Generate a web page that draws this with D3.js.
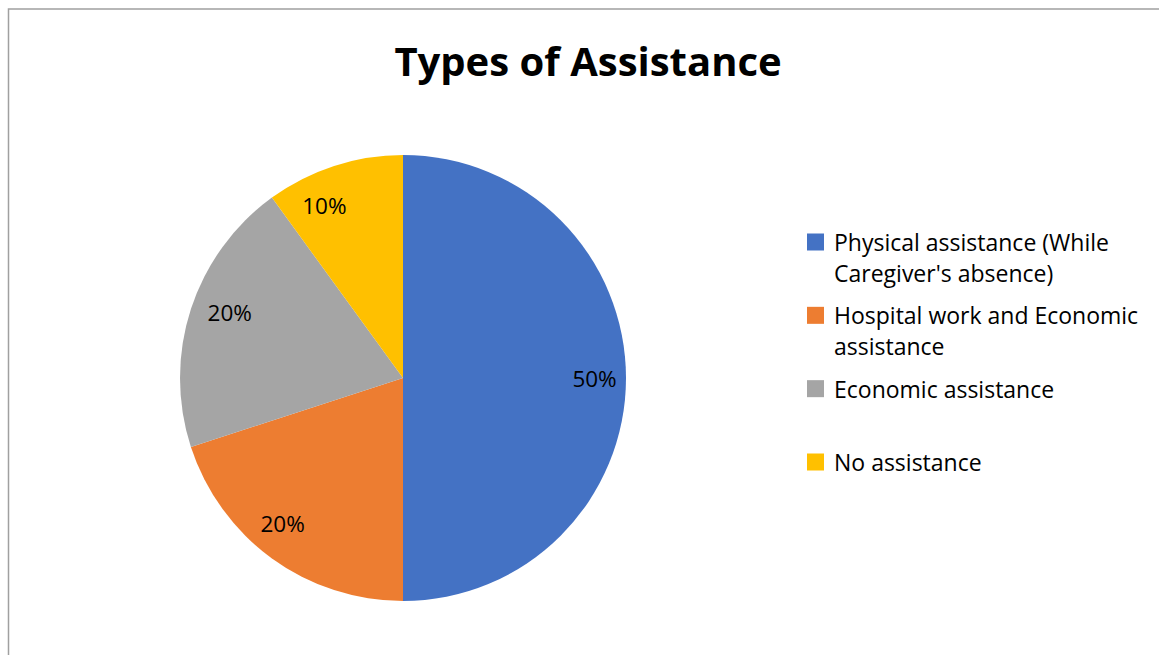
<!DOCTYPE html>
<html>
<head>
<meta charset="utf-8">
<script src="https://cdn.jsdelivr.net/npm/d3@7"></script>
<style>
  html, body { margin: 0; padding: 0; background: #fff; }
  svg { display: block; }
</style>
</head>
<body>
<svg id="chart" width="1159" height="655"></svg>
<script>
// Chart content
const title = "Types of Assistance";
const categories = [
  "Physical assistance (While Caregiver's absence)",
  "Hospital work and Economic assistance",
  "Economic assistance",
  "No assistance"
];
const legendLines = [
  ["Physical assistance (While", "Caregiver's absence)"],
  ["Hospital work and Economic", "assistance"],
  ["Economic assistance"],
  ["No assistance"]
];
const shares = [50, 20, 20, 10];
const colors = ["#4472C4", "#ED7D31", "#A5A5A5", "#FFC000"];

const W = 1159, H = 655;
const font = "'Open Sans', 'Liberation Sans', sans-serif";
const svg = d3.select("#chart");

// Chart frame (runs past the right and bottom edges)
svg.append("rect")
  .attr("x", 8.5).attr("y", 9)
  .attr("width", W + 20).attr("height", H + 20)
  .attr("fill", "#fff")
  .attr("stroke", "#a0a0a0")
  .attr("stroke-width", 1.5);

// Title
svg.append("text")
  .attr("x", 588).attr("y", 76)
  .attr("text-anchor", "middle")
  .attr("font-family", font)
  .attr("font-weight", "bold")
  .attr("font-size", 40)
  .attr("fill", "#000")
  .text(title);

// Pie
const cx = 403, cy = 378, r = 223;
const pie = d3.pie().sort(null).value(d => d);
const arcs = pie(shares);
const arc = d3.arc().innerRadius(0).outerRadius(r);
const labelArc = d3.arc().innerRadius(r * 0.85).outerRadius(r * 0.85);
const color = d3.scaleOrdinal().domain(d3.range(shares.length)).range(colors);
// small per-label nudges so labels sit clear of slice edges
const labelNudge = [[2, 0], [-9, -8], [7, -7], [-20, 8]];

const g = svg.append("g").attr("transform", `translate(${cx},${cy})`);
g.selectAll("path.slice")
  .data(arcs)
  .join("path")
  .attr("class", "slice")
  .attr("d", arc)
  .attr("fill", (d, i) => color(i));

g.selectAll("text.pct")
  .data(arcs)
  .join("text")
  .attr("class", "pct")
  .attr("transform", (d, i) => {
    const [x, y] = labelArc.centroid(d);
    return `translate(${x + labelNudge[i][0]},${y + labelNudge[i][1]})`;
  })
  .attr("text-anchor", "middle")
  .attr("dominant-baseline", "central")
  .attr("font-family", font)
  .attr("font-size", 22.5)
  .attr("fill", "#000")
  .text(d => d3.format(".0%")(d.data / d3.sum(shares)));

// Legend
const legendY = d3.scalePoint().domain(d3.range(categories.length)).range([242, 462]);
const lineH = 31;
const lg = svg.append("g");
const items = lg.selectAll("g.item")
  .data(categories)
  .join("g")
  .attr("class", "item")
  .attr("transform", (d, i) => `translate(807,${legendY(i)})`);

items.append("rect")
  .attr("x", 0).attr("y", -8.5)
  .attr("width", 17).attr("height", 17)
  .attr("fill", (d, i) => color(i));

items.each(function (d, i) {
  d3.select(this).selectAll("text")
    .data(legendLines[i])
    .join("text")
    .attr("x", 27)
    .attr("y", (t, j) => j * lineH)
    .attr("dominant-baseline", "central")
    .attr("font-family", font)
    .attr("font-size", 23)
    .attr("fill", "#000")
    .text(t => t);
});
</script>
</body>
</html>
